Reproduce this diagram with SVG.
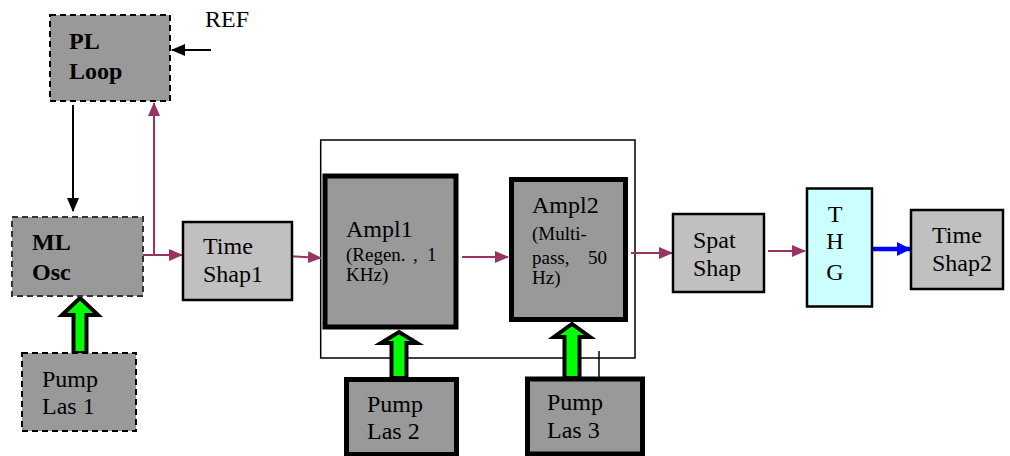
<svg xmlns="http://www.w3.org/2000/svg" width="1010" height="456" viewBox="0 0 1010 456" font-family="'Liberation Serif', 'Times New Roman', serif">
<style>
text{font-family:'Liberation Serif','Times New Roman',serif;font-size:24px;fill:#000}
.b{font-weight:bold}
.s{font-size:19px}
.dash{fill:#999;stroke:#000;stroke-width:2;stroke-dasharray:6 4}
.thick{fill:#999;stroke:#000;stroke-width:5}
.light{fill:#c0c0c0;stroke:#000;stroke-width:2.5}
.pump{fill:#00ff00;stroke:#000;stroke-width:4;stroke-linejoin:miter}
.mg{fill:none;stroke:#993366;stroke-width:2}
.bk{fill:none;stroke:#000;stroke-width:2}
.bl{fill:none;stroke:#0000ff;stroke-width:4.5}
</style>
<defs>
<marker id="am" markerUnits="userSpaceOnUse" markerWidth="14" markerHeight="12" refX="13" refY="6" orient="auto"><path d="M0,0 L14,6 L0,12 z" fill="#993366"/></marker>
<marker id="ak" markerUnits="userSpaceOnUse" markerWidth="14" markerHeight="12" refX="13" refY="6" orient="auto"><path d="M0,0 L14,6 L0,12 z" fill="#000"/></marker>
<marker id="ab" markerUnits="userSpaceOnUse" markerWidth="14" markerHeight="14" refX="13" refY="7" orient="auto"><path d="M0,0 L14,7 L0,14 z" fill="#0000ff"/></marker>
</defs>

<g id="group-box">
<rect x="320.7" y="140" width="314.3" height="218" fill="none" stroke="#000" stroke-width="1.5"/>
<line x1="599" y1="351" x2="599" y2="378" stroke="#000" stroke-width="1.5"/>
</g>

<g id="connectors">
<path class="bk" d="M73,105 V211" marker-end="url(#ak)"/>
<path class="bk" d="M211,50 H172" marker-end="url(#ak)"/>
<path class="mg" d="M154,254 V103" marker-end="url(#am)"/>
<path class="mg" d="M143,255 H182" marker-end="url(#am)"/>
<path class="mg" d="M287,256 L321,258" marker-end="url(#am)"/>
<path class="mg" d="M462,257 H508" marker-end="url(#am)"/>
<path class="mg" d="M631,253 H672" marker-end="url(#am)"/>
<path class="mg" d="M768,251 H805" marker-end="url(#am)"/>
<path class="bl" d="M872,249 H910" marker-end="url(#ab)"/>
<polygon class="pump" points="73.5,353 73.5,315 62,315 80,298 98,315 86.5,315 86.5,353"/>
<polygon class="pump" points="391.5,378 391.5,343 381,343 399,332 417,343 406.5,343 406.5,378"/>
<polygon class="pump" points="564.5,378 564.5,337 554,337 572,324 590,337 579.5,337 579.5,378"/>
</g>

<g id="pl-loop">
<rect class="dash" x="50" y="15" width="120" height="86"/>
<text class="b" x="69" y="49">PL</text>
<text class="b" x="69" y="79">Loop</text>
</g>
<g id="ref"><text x="205" y="27">REF</text></g>

<g id="ml-osc">
<rect class="dash" x="12" y="217" width="131" height="79" style="stroke:#333"/>
<text class="b" x="32" y="250">ML</text>
<text class="b" x="32" y="280">Osc</text>
</g>

<g id="pump-las-1">
<rect class="dash" x="22" y="353" width="114" height="78"/>
<text x="42" y="387">Pump</text>
<text x="42" y="414">Las 1</text>
</g>

<g id="time-shap1">
<rect class="light" x="183" y="222" width="109" height="78"/>
<text x="203" y="254">Time</text>
<text x="203" y="282">Shap1</text>
</g>

<g id="ampl1">
<rect class="thick" x="325" y="176" width="131" height="151"/>
<text x="346" y="237">Ampl1</text>
<text class="s" y="261"><tspan x="346">(Regen.</tspan><tspan x="413">,</tspan><tspan x="427">1</tspan></text>
<text class="s" x="346" y="281">KHz)</text>
</g>

<g id="ampl2">
<rect class="thick" x="511.5" y="179.5" width="114" height="140"/>
<text x="532" y="213">Ampl2</text>
<text class="s" x="532" y="240">(Multi-</text>
<text class="s" y="264"><tspan x="532">pass,</tspan><tspan x="588">50</tspan></text>
<text class="s" x="532" y="284">Hz)</text>
</g>

<g id="pump-las-2">
<rect class="thick" x="346.5" y="379.5" width="110" height="75"/>
<text x="367" y="412">Pump</text>
<text x="367" y="439">Las 2</text>
</g>

<g id="pump-las-3">
<rect class="thick" x="527.5" y="379" width="115" height="75"/>
<text x="547" y="410">Pump</text>
<text x="547" y="438">Las 3</text>
</g>

<g id="spat-shap">
<rect class="light" x="673" y="214" width="91" height="78"/>
<text x="693" y="248">Spat</text>
<text x="693" y="276">Shap</text>
</g>

<g id="thg">
<rect x="807" y="188.5" width="65" height="118" fill="#ccffff" stroke="#000" stroke-width="2.5"/>
<text x="835" y="222" text-anchor="middle">T</text>
<text x="835" y="249" text-anchor="middle">H</text>
<text x="835" y="280" text-anchor="middle">G</text>
</g>

<g id="time-shap2">
<rect class="light" x="911" y="210" width="92" height="79"/>
<text x="932" y="243">Time</text>
<text x="932" y="271">Shap2</text>
</g>
</svg>
